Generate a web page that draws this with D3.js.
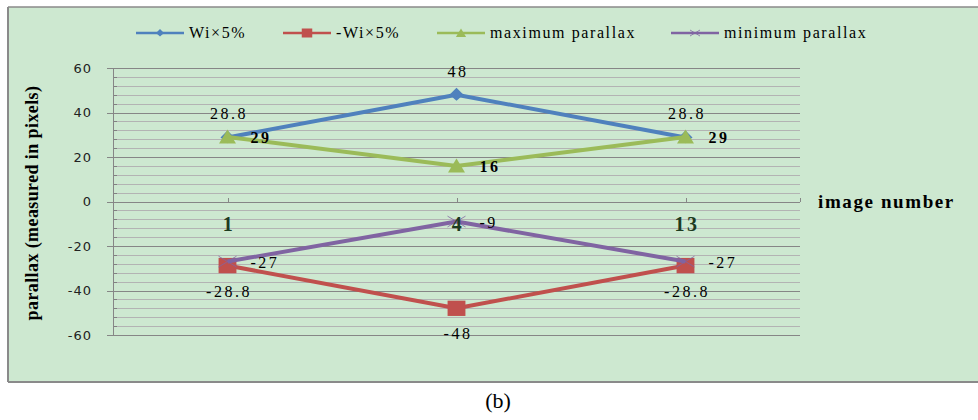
<!DOCTYPE html>
<html>
<head>
<meta charset="utf-8">
<script src="https://cdn.jsdelivr.net/npm/d3@7/dist/d3.min.js"></script>
<style>
  html, body { margin: 0; padding: 0; background: #ffffff; }
  svg { display: block; }
</style>
</head>
<body>
<svg id="chart" width="978" height="420"></svg>
<script>
// Image numbers along the horizontal axis
const categories = ["1", "4", "13"];

// Parallax values per image (pixels)
const wiPlus = [28.8, 48, 28.8];
const wiMinus = [-28.8, -48, -28.8];
const maxParallax = [29, 16, 29];
const minParallax = [-27, -9, -27];

const yTicks = [60, 40, 20, 0, -20, -40, -60];

const seriesNames = ["Wi\u00d75%", "-Wi\u00d75%", "maximum parallax", "minimum parallax"];

const series = [
  { name: seriesNames[0], values: wiPlus, color: "#4f81bd", marker: "diamond", label: "above" },
  { name: seriesNames[1], values: wiMinus, color: "#c0504d", marker: "square", label: "below" },
  { name: seriesNames[2], values: maxParallax, color: "#9bbb59", marker: "triangle", label: "right" },
  { name: seriesNames[3], values: minParallax, color: "#8064a2", marker: "cross", label: "right" }
];

// Plain hyphen for negatives
const fmt = v => String(v);

const svg = d3.select("#chart");
const serif = "Liberation Serif";

// Chart area background
svg.append("rect")
  .attr("x", 8).attr("y", 7).attr("width", 972).attr("height", 375)
  .attr("fill", "#cde8d0");
svg.append("line").attr("x1", 8).attr("x2", 978).attr("y1", 7).attr("y2", 7)
  .attr("stroke", "#8a8a8a").attr("stroke-width", 1.5);
svg.append("line").attr("x1", 8).attr("x2", 978).attr("y1", 382).attr("y2", 382)
  .attr("stroke", "#8a8a8a").attr("stroke-width", 2);
svg.append("line").attr("x1", 8).attr("x2", 8).attr("y1", 7).attr("y2", 382)
  .attr("stroke", "#8a8a8a").attr("stroke-width", 2);

const plot = { left: 113, right: 800, top: 68, bottom: 335 };

const x = d3.scaleBand().domain(categories).range([plot.left, plot.right]);
const cx = c => x(c) + x.bandwidth() / 2;
const y = d3.scaleLinear().domain([-60, 60]).range([plot.bottom, plot.top]);

// Minor gridlines every 4 units, major every 20
const minor = d3.range(-60, 61, 4).filter(v => v % 20 !== 0);
const grid = svg.append("g");
grid.selectAll("line.minor").data(minor).enter().append("line")
  .attr("class", "minor")
  .attr("x1", plot.left).attr("x2", plot.right)
  .attr("y1", d => Math.round(y(d)) + 0.5).attr("y2", d => Math.round(y(d)) + 0.5)
  .attr("stroke", "#b3b3b3").attr("stroke-width", 1);
grid.selectAll("line.minortick").data(minor).enter().append("line")
  .attr("class", "minortick")
  .attr("x1", plot.left).attr("x2", plot.left + 4)
  .attr("y1", d => Math.round(y(d)) + 0.5).attr("y2", d => Math.round(y(d)) + 0.5)
  .attr("stroke", "#808080").attr("stroke-width", 1);
grid.selectAll("line.major").data(yTicks).enter().append("line")
  .attr("class", "major")
  .attr("x1", plot.left - 6).attr("x2", plot.right)
  .attr("y1", d => Math.round(y(d)) + 0.5).attr("y2", d => Math.round(y(d)) + 0.5)
  .attr("stroke", "#868686").attr("stroke-width", 1);

// Vertical axis
const yAxis = d3.axisLeft(y).tickValues(yTicks).tickSize(0).tickPadding(21)
  .tickFormat(fmt);
const yAxisG = svg.append("g").attr("transform", `translate(${plot.left},0)`).call(yAxis);
yAxisG.select(".domain").attr("stroke", "#868686");
yAxisG.selectAll("text")
  .attr("font-family", "DejaVu Sans")
  .attr("font-size", 13)
  .attr("letter-spacing", 1)
  .attr("fill", "#222");

// Horizontal axis ticks on the zero line
const tickXs = categories.map(cx).concat([plot.right]);
svg.append("g").selectAll("line").data(tickXs).enter().append("line")
  .attr("x1", d => Math.round(d) + 0.5).attr("x2", d => Math.round(d) + 0.5)
  .attr("y1", Math.round(y(0)) - 4).attr("y2", Math.round(y(0)))
  .attr("stroke", "#868686");

// Series lines
const line = d3.line().x(d => cx(d.c)).y(d => y(d.v));
const markerSize = { diamond: 7, square: 8.5, triangle: 10, cross: 9 };

function drawMarker(g, type, px, py, color, s) {
  if (type === "diamond") {
    g.append("path")
      .attr("d", `M${px},${py - s}L${px + s},${py}L${px},${py + s * 0.85}L${px - s},${py}Z`)
      .attr("fill", color);
  } else if (type === "square") {
    g.append("rect").attr("x", px - s * 1.05).attr("y", py - s * 0.9)
      .attr("width", s * 2.1).attr("height", s * 1.8).attr("fill", color);
  } else if (type === "triangle") {
    g.append("path")
      .attr("d", `M${px},${py - s * 0.75}L${px + s * 0.85},${py + s * 0.65}L${px - s * 0.85},${py + s * 0.65}Z`)
      .attr("fill", color);
  } else if (type === "cross") {
    g.append("path")
      .attr("d", `M${px - s},${py - s * 0.6}L${px + s},${py + s * 0.6}M${px - s},${py + s * 0.6}L${px + s},${py - s * 0.6}`)
      .attr("stroke", color).attr("stroke-width", 0.8).attr("fill", "none");
  }
}

series.forEach(s => {
  const pts = categories.map((c, i) => ({ c, v: s.values[i] }));
  const g = svg.append("g");
  g.append("path").datum(pts)
    .attr("d", line)
    .attr("fill", "none")
    .attr("stroke", s.color)
    .attr("stroke-width", 4)
    .attr("stroke-linejoin", "round");
  pts.forEach(p => drawMarker(g, s.marker, cx(p.c), y(p.v), s.color, markerSize[s.marker]));
});

// Category labels under the zero line
svg.append("g").selectAll("text").data(categories).enter().append("text")
  .attr("x", d => cx(d) + 1.5)
  .attr("y", Math.round(y(0)) + 29)
  .attr("text-anchor", "middle")
  .attr("font-family", serif)
  .attr("font-weight", "bold")
  .attr("font-size", 20)
  .attr("letter-spacing", 2.5)
  .attr("fill", "#1d3b1f")
  .text(d => d);

// Data labels
const labels = svg.append("g")
  .attr("font-family", serif)
  .attr("font-size", 16)
  .attr("fill", "#000");
series.forEach(s => {
  categories.forEach((c, i) => {
    const v = s.values[i];
    const px = cx(c), py = y(v);
    const t = labels.append("text").text(fmt(v)).attr("letter-spacing", 2.5);
    if (s.label === "above") {
      t.attr("x", px + 1.5).attr("y", py - 18).attr("text-anchor", "middle");
    } else if (s.label === "below") {
      t.attr("x", px + 1.5).attr("y", py + 31).attr("text-anchor", "middle");
    } else {
      t.attr("x", px + 23).attr("y", py + 6).attr("text-anchor", "start");
    }
    if (s.marker === "triangle") t.attr("font-weight", "bold");
  });
});

// Axis titles
svg.append("text")
  .attr("x", 818).attr("y", Math.round(y(0)) + 6)
  .attr("font-family", serif)
  .attr("font-weight", "bold")
  .attr("font-size", 19)
  .attr("letter-spacing", 1.6)
  .attr("fill", "#000")
  .text("image number");

svg.append("text")
  .attr("transform", `translate(38,${203}) rotate(-90)`)
  .attr("text-anchor", "middle")
  .attr("font-family", serif)
  .attr("font-weight", "bold")
  .attr("font-size", 18)
  .attr("letter-spacing", 0.4)
  .attr("fill", "#000")
  .text("parallax (measured in pixels)");

// Legend
const legendX = [136, 283, 437, 671];
const legend = svg.append("g");
series.forEach((s, i) => {
  const lx = legendX[i], ly = 33;
  legend.append("line")
    .attr("x1", lx).attr("x2", lx + 48).attr("y1", ly).attr("y2", ly)
    .attr("stroke", s.color).attr("stroke-width", 2.5);
  const ms = { diamond: 4, square: 5, triangle: 6, cross: 5 }[s.marker];
  drawMarker(legend, s.marker, lx + 24, ly, s.color, ms);
  legend.append("text")
    .attr("x", lx + 53).attr("y", ly + 5)
    .attr("font-family", serif)
    .attr("font-size", 16)
    .attr("letter-spacing", 1.6)
    .attr("fill", "#000")
    .text(s.name);
});

// Panel caption
svg.append("text")
  .attr("x", 498).attr("y", 408)
  .attr("text-anchor", "middle")
  .attr("font-family", serif)
  .attr("font-size", 22)
  .attr("fill", "#000")
  .text("(b)");
</script>
</body>
</html>
